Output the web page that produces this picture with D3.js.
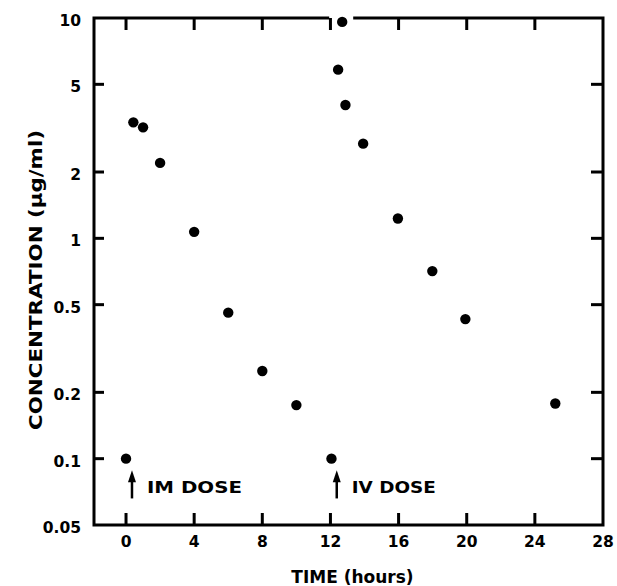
<!DOCTYPE html>
<html lang="en">
  <head>
    <meta charset="UTF-8" />
    <title>Concentration vs time</title>
    <style>
      body {
        margin: 0;
        background: #fff;
      }
      text {
        font-family: "DejaVu Sans", sans-serif;
        font-weight: bold;
        fill: #000;
      }
    </style>
  </head>
  <body>
    <svg id="svg" width="617" height="586"></svg>
    <script src="https://cdn.jsdelivr.net/npm/d3@7"></script>
    <script>
      // CONSTANTS
      const WIDTH = 617;
      const HEIGHT = 586;
      const LEFT = 94;
      const RIGHT = 603;
      const TOP = 18;
      const BOTTOM = 525;

      // data
      const imTimes = [0, 0.43, 1, 2, 4, 6, 8, 10];
      const imConc = [0.1, 3.36, 3.19, 2.2, 1.07, 0.46, 0.25, 0.175];
      const ivTimes = [12.06, 12.45, 12.69, 12.88, 13.92, 15.96, 17.98, 19.92, 25.2];
      const ivConc = [0.1, 5.83, 9.6, 4.03, 2.69, 1.23, 0.71, 0.43, 0.178];

      const xTicks = [0, 4, 8, 12, 16, 20, 24, 28];
      const yTicks = [0.05, 0.1, 0.2, 0.5, 1, 2, 5, 10];
      const yTickLabels = ["0.05", "0.1", "0.2", "0.5", "1", "2", "5", "10"];

      const doseLabels = ["IM DOSE", "IV DOSE"];
      const doseTimes = [0.35, 12.37];
      const arrowTip = 0.0887;
      const arrowBase = 0.066;

      const x = d3.scaleLinear().domain([-1.88, 28]).range([LEFT, RIGHT]);
      const y = d3.scaleLog().domain([0.05, 10]).range([BOTTOM, TOP]);

      const points = imTimes
        .map((t, i) => ({ t, c: imConc[i] }))
        .concat(ivTimes.map((t, i) => ({ t, c: ivConc[i] })));

      const svg = d3.select("#svg");
      const frame = svg.append("g").attr("stroke", "#000").attr("stroke-width", 3);

      // ticks, all pointing inward
      const inner = xTicks.filter((d) => d < 28);
      frame
        .selectAll(".bt")
        .data(inner)
        .enter()
        .append("line")
        .attr("x1", (d) => x(d))
        .attr("x2", (d) => x(d))
        .attr("y1", BOTTOM)
        .attr("y2", BOTTOM - 12);
      frame
        .selectAll(".tt")
        .data(inner)
        .enter()
        .append("line")
        .attr("x1", (d) => x(d))
        .attr("x2", (d) => x(d))
        .attr("y1", TOP)
        .attr("y2", TOP + 12);
      const yInner = yTicks.filter((d) => d > 0.05 && d < 10);
      frame
        .selectAll(".lt")
        .data(yInner)
        .enter()
        .append("line")
        .attr("x1", LEFT)
        .attr("x2", LEFT + 10)
        .attr("y1", (d) => y(d))
        .attr("y2", (d) => y(d));
      frame
        .selectAll(".rt")
        .data(yInner)
        .enter()
        .append("line")
        .attr("x1", RIGHT)
        .attr("x2", RIGHT - 12)
        .attr("y1", (d) => y(d))
        .attr("y2", (d) => y(d));

      // frame, top edge broken around the highest point
      const peak = points.reduce((a, b) => (b.c > a.c ? b : a));
      const gapL = x(peak.t) - 13;
      const gapR = x(peak.t) + 11;
      frame
        .append("path")
        .attr("fill", "none")
        .attr(
          "d",
          `M${gapL},${TOP}H${LEFT}V${BOTTOM}H${RIGHT}V${TOP}H${gapR}`
        );

      // points
      svg
        .append("g")
        .selectAll("circle")
        .data(points)
        .enter()
        .append("circle")
        .attr("cx", (d) => x(d.t))
        .attr("cy", (d) => y(d.c))
        .attr("r", 5.2)
        .attr("fill", "#000");

      // tick labels
      svg
        .append("g")
        .selectAll("text")
        .data(xTicks)
        .enter()
        .append("text")
        .attr("x", (d) => x(d))
        .attr("y", BOTTOM + 22)
        .attr("text-anchor", "middle")
        .style("font-size", "15.5px")
        .text((d) => d);
      svg
        .append("g")
        .selectAll("text")
        .data(yTicks)
        .enter()
        .append("text")
        .attr("x", LEFT - 13)
        .attr("y", (d) => y(d) + 8)
        .attr("text-anchor", "end")
        .style("font-size", "15.5px")
        .text((d, i) => yTickLabels[i]);

      // axis titles
      svg
        .append("text")
        .attr("x", (LEFT + RIGHT) / 2 + 4)
        .attr("y", 583)
        .attr("text-anchor", "middle")
        .style("font-size", "17px")
        .text("TIME (hours)");
      svg
        .append("text")
        .attr("transform", "translate(42,280) rotate(-90)")
        .attr("text-anchor", "middle")
        .attr("textLength", 300)
        .attr("lengthAdjust", "spacingAndGlyphs")
        .style("font-size", "17px")
        .text("CONCENTRATION (\u03bcg/ml)");

      // dose arrows and labels
      const dose = svg.append("g");
      doseTimes.forEach((t, i) => {
        const ax = x(t);
        dose
          .append("line")
          .attr("x1", ax)
          .attr("x2", ax)
          .attr("y1", y(arrowBase))
          .attr("y2", y(arrowTip) + 8)
          .attr("stroke", "#000")
          .attr("stroke-width", 2.5);
        dose
          .append("path")
          .attr(
            "d",
            `M${ax},${y(arrowTip)}L${ax - 4},${y(arrowTip) + 12}L${ax + 4},${y(arrowTip) + 12}Z`
          )
          .attr("fill", "#000");
        dose
          .append("text")
          .attr("x", ax + 15)
          .attr("y", y(arrowBase) - 5)
          .attr("textLength", i === 0 ? 95 : 84)
          .attr("lengthAdjust", "spacingAndGlyphs")
          .style("font-size", "16.5px")
          .text(doseLabels[i]);
      });
    </script>
  </body>
</html>
